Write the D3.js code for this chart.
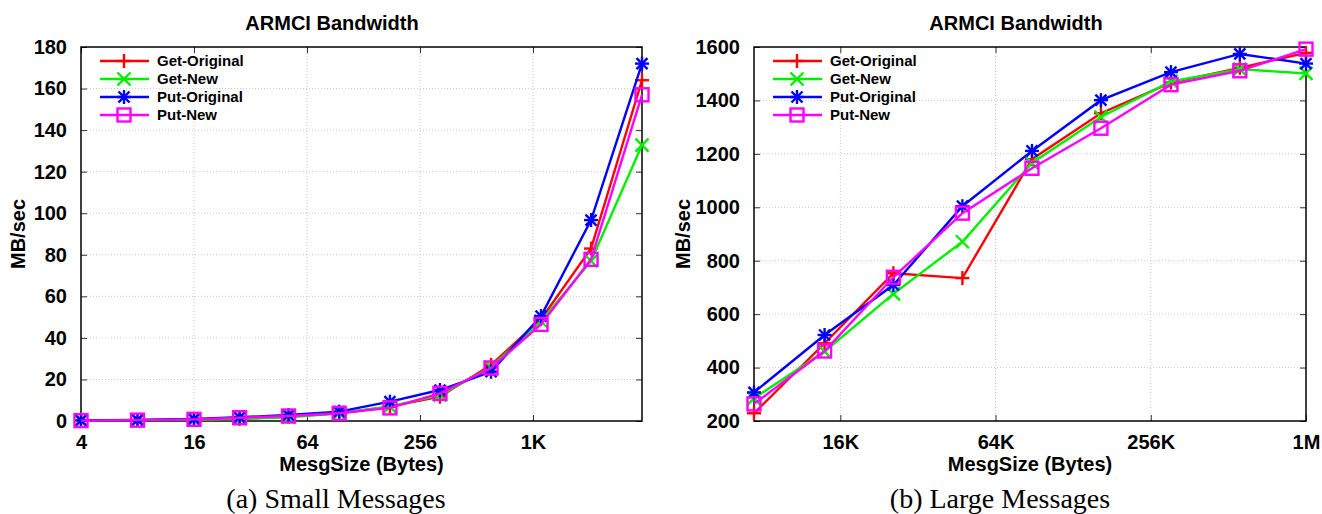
<!DOCTYPE html>
<html>
<head>
<meta charset="utf-8">
<script src="https://cdn.jsdelivr.net/npm/d3@7"></script>
<style>
  body { margin: 0; background: #fff; }
  svg { display: block; }
  .tick-label { font-family: "Liberation Sans", Arial, sans-serif; font-weight: bold; font-size: 20px; }
  .title { font-family: "Liberation Sans", Arial, sans-serif; font-weight: bold; font-size: 20px; }
  .legend-text { font-family: "Liberation Sans", Arial, sans-serif; font-weight: bold; font-size: 15px; }
  .caption { font-family: "Liberation Serif", serif; font-size: 28px; }
</style>
</head>
<body>
<script>
// series names + colours
var seriesNames = ["Get-Original", "Get-New", "Put-Original", "Put-New"];
var seriesColors = ["#ff0000", "#00ee00", "#0000ff", "#ff00ff"];
var seriesMarkers = ["plus", "cross", "star", "square"];

// small messages (bytes)
var smallSizes = [4, 8, 16, 28, 51, 95, 177, 327, 612, 1130, 2087, 3899];
var smallGetOrig = [0.2, 0.4, 0.6, 1.0, 2.1, 3.7, 6.9, 11.7, 27, 49, 83, 164];
var smallGetNew = [0.2, 0.4, 0.6, 1.1, 1.8, 3.7, 6.9, 12.5, 26, 48, 77, 132.8];
var smallPutOrig = [0.3, 0.5, 1.0, 1.8, 2.9, 4.5, 9.3, 14.9, 23.7, 50.5, 96.7, 172];
var smallPutNew = [0.2, 0.4, 0.8, 1.6, 2.4, 3.7, 6.3, 13.3, 25.5, 46.5, 77.8, 157];
var smallXTicks = [4, 16, 64, 256, 1024];
var smallXLabels = ["4", "16", "64", "256", "1K"];
var smallYTicks = [0, 20, 40, 60, 80, 100, 120, 140, 160, 180];

// large messages (bytes)
var largeSizes = [7578, 14234, 26317, 48742, 90726, 167936, 313958, 580608, 1048576];
var largeGetOrig = [229, 491, 753, 735, 1180, 1352, 1467, 1522, 1578];
var largeGetNew = [285, 460, 676, 871, 1166, 1338, 1471, 1517, 1501];
var largePutOrig = [307, 522, 709, 1004, 1211, 1401, 1506, 1574, 1538];
var largePutNew = [264, 462, 738, 978, 1146, 1296, 1459, 1511, 1592];
var largeXTicks = [16384, 65536, 262144, 1048576];
var largeXLabels = ["16K", "64K", "256K", "1M"];
var largeYTicks = [200, 400, 600, 800, 1000, 1200, 1400, 1600];

var svg = d3.select("body").append("svg")
  .attr("width", 1322)
  .attr("height", 514);

// draw one marker shape at (0,0)
function drawMarker(g, type, color) {
  var s = 7;
  if (type == "plus" || type == "star") {
    g.append("line").attr("x1", -s).attr("x2", s).attr("y1", 0).attr("y2", 0);
    g.append("line").attr("x1", 0).attr("x2", 0).attr("y1", -s).attr("y2", s);
  }
  if (type == "cross" || type == "star") {
    var c = type == "star" ? 5.5 : 6.5;
    g.append("line").attr("x1", -c).attr("x2", c).attr("y1", -c).attr("y2", c);
    g.append("line").attr("x1", -c).attr("x2", c).attr("y1", c).attr("y2", -c);
  }
  if (type == "square") {
    g.append("rect").attr("x", -6.5).attr("y", -6.5).attr("width", 13).attr("height", 13)
      .attr("fill", "none");
  }
  g.selectAll("line, rect").attr("stroke", color).attr("stroke-width", 2.4);
}

function makeChart(opt) {
  var left = opt.left, right = opt.right, top = 47, bottom = 421;

  var x = d3.scaleLog().base(2)
    .domain([opt.sizes[0], opt.sizes[opt.sizes.length - 1]])
    .range([left, right]);
  var y = d3.scaleLinear()
    .domain([opt.yTicks[0], opt.yTicks[opt.yTicks.length - 1]])
    .range([bottom, top]);

  var g = svg.append("g");

  // grid
  g.selectAll(".ygrid").data(opt.yTicks.slice(1, -1)).enter().append("line")
    .attr("x1", left).attr("x2", right)
    .attr("y1", function(d) { return y(d); }).attr("y2", function(d) { return y(d); })
    .attr("stroke", "#bbbbbb").attr("stroke-width", 0.8).attr("stroke-dasharray", "1,2");
  g.selectAll(".xgrid").data(opt.xTicks.filter(function(d) { return x(d) > left + 1 && x(d) < right - 1; }))
    .enter().append("line")
    .attr("x1", function(d) { return x(d); }).attr("x2", function(d) { return x(d); })
    .attr("y1", top).attr("y2", bottom)
    .attr("stroke", "#bbbbbb").attr("stroke-width", 0.8).attr("stroke-dasharray", "1,2");

  // axes with inward ticks (gnuplot style)
  var xAxis = d3.axisBottom(x).tickValues(opt.xTicks)
    .tickFormat(function(d, i) { return opt.xLabels[i]; })
    .tickSizeInner(-6).tickSizeOuter(0).tickPadding(14);
  var gx = g.append("g").attr("transform", "translate(0," + bottom + ")").call(xAxis);
  gx.selectAll("text").attr("class", "tick-label").attr("fill", "#000");

  var yAxis = d3.axisLeft(y).tickValues(opt.yTicks)
    .tickFormat(d3.format("d"))
    .tickSizeInner(-6).tickSizeOuter(0).tickPadding(14);
  var gy = g.append("g").attr("transform", "translate(" + left + ",0)").call(yAxis);
  gy.selectAll("text").attr("class", "tick-label").attr("fill", "#000");

  // mirrored ticks top/right
  g.append("g").attr("transform", "translate(0," + top + ")")
    .call(d3.axisTop(x).tickValues(opt.xTicks).tickSizeInner(-6).tickSizeOuter(0).tickFormat(""));
  g.append("g").attr("transform", "translate(" + right + ",0)")
    .call(d3.axisRight(y).tickValues(opt.yTicks).tickSizeInner(-6).tickSizeOuter(0).tickFormat(""));
  g.selectAll(".domain").remove();
  g.selectAll(".tick line").attr("stroke", "#333").attr("stroke-width", 1);

  // frame
  g.append("rect").attr("x", left).attr("y", top)
    .attr("width", right - left).attr("height", bottom - top)
    .attr("fill", "none").attr("stroke", "#000").attr("stroke-width", 1.5);

  // lines + markers
  var line = d3.line()
    .x(function(d) { return x(d[0]); })
    .y(function(d) { return y(d[1]); });

  opt.series.forEach(function(vals, k) {
    var pts = opt.sizes.map(function(s, i) { return [s, vals[i]]; });
    g.append("path").datum(pts)
      .attr("d", line)
      .attr("fill", "none")
      .attr("stroke", seriesColors[k])
      .attr("stroke-width", 2.4);
    pts.forEach(function(p) {
      var m = g.append("g").attr("transform", "translate(" + x(p[0]) + "," + y(p[1]) + ")");
      drawMarker(m, seriesMarkers[k], seriesColors[k]);
    });
  });

  // legend
  seriesNames.forEach(function(name, k) {
    var ly = 61 + k * 18;
    var lx = left + 19;
    g.append("line").attr("x1", lx).attr("x2", lx + 49).attr("y1", ly).attr("y2", ly)
      .attr("stroke", seriesColors[k]).attr("stroke-width", 2.4);
    var m = g.append("g").attr("transform", "translate(" + (lx + 24) + "," + ly + ")");
    drawMarker(m, seriesMarkers[k], seriesColors[k]);
    g.append("text").attr("class", "legend-text")
      .attr("x", lx + 57).attr("y", ly + 5).text(name);
  });

  // title, axis labels, caption
  g.append("text").attr("class", "title")
    .attr("x", opt.titleX).attr("y", 30)
    .attr("text-anchor", "middle").text("ARMCI Bandwidth");
  g.append("text").attr("class", "title")
    .attr("x", (left + right) / 2).attr("y", 471)
    .attr("text-anchor", "middle").text("MesgSize (Bytes)");
  g.append("text").attr("class", "title")
    .attr("transform", "translate(" + (opt.ylabelX) + "," + ((top + bottom) / 2) + ") rotate(-90)")
    .attr("text-anchor", "middle").text("MB/sec");
  g.append("text").attr("class", "caption")
    .attr("x", opt.captionX).attr("y", 508)
    .attr("text-anchor", "middle").text(opt.caption);
}

makeChart({
  left: 81, right: 642, ylabelX: 25, titleX: 332, captionX: 336,
  sizes: smallSizes,
  series: [smallGetOrig, smallGetNew, smallPutOrig, smallPutNew],
  xTicks: smallXTicks, xLabels: smallXLabels, yTicks: smallYTicks,
  caption: "(a) Small Messages"
});

makeChart({
  left: 754, right: 1306, ylabelX: 690, titleX: 1016, captionX: 1000,
  sizes: largeSizes,
  series: [largeGetOrig, largeGetNew, largePutOrig, largePutNew],
  xTicks: largeXTicks, xLabels: largeXLabels, yTicks: largeYTicks,
  caption: "(b) Large Messages"
});
</script>
</body>
</html>
